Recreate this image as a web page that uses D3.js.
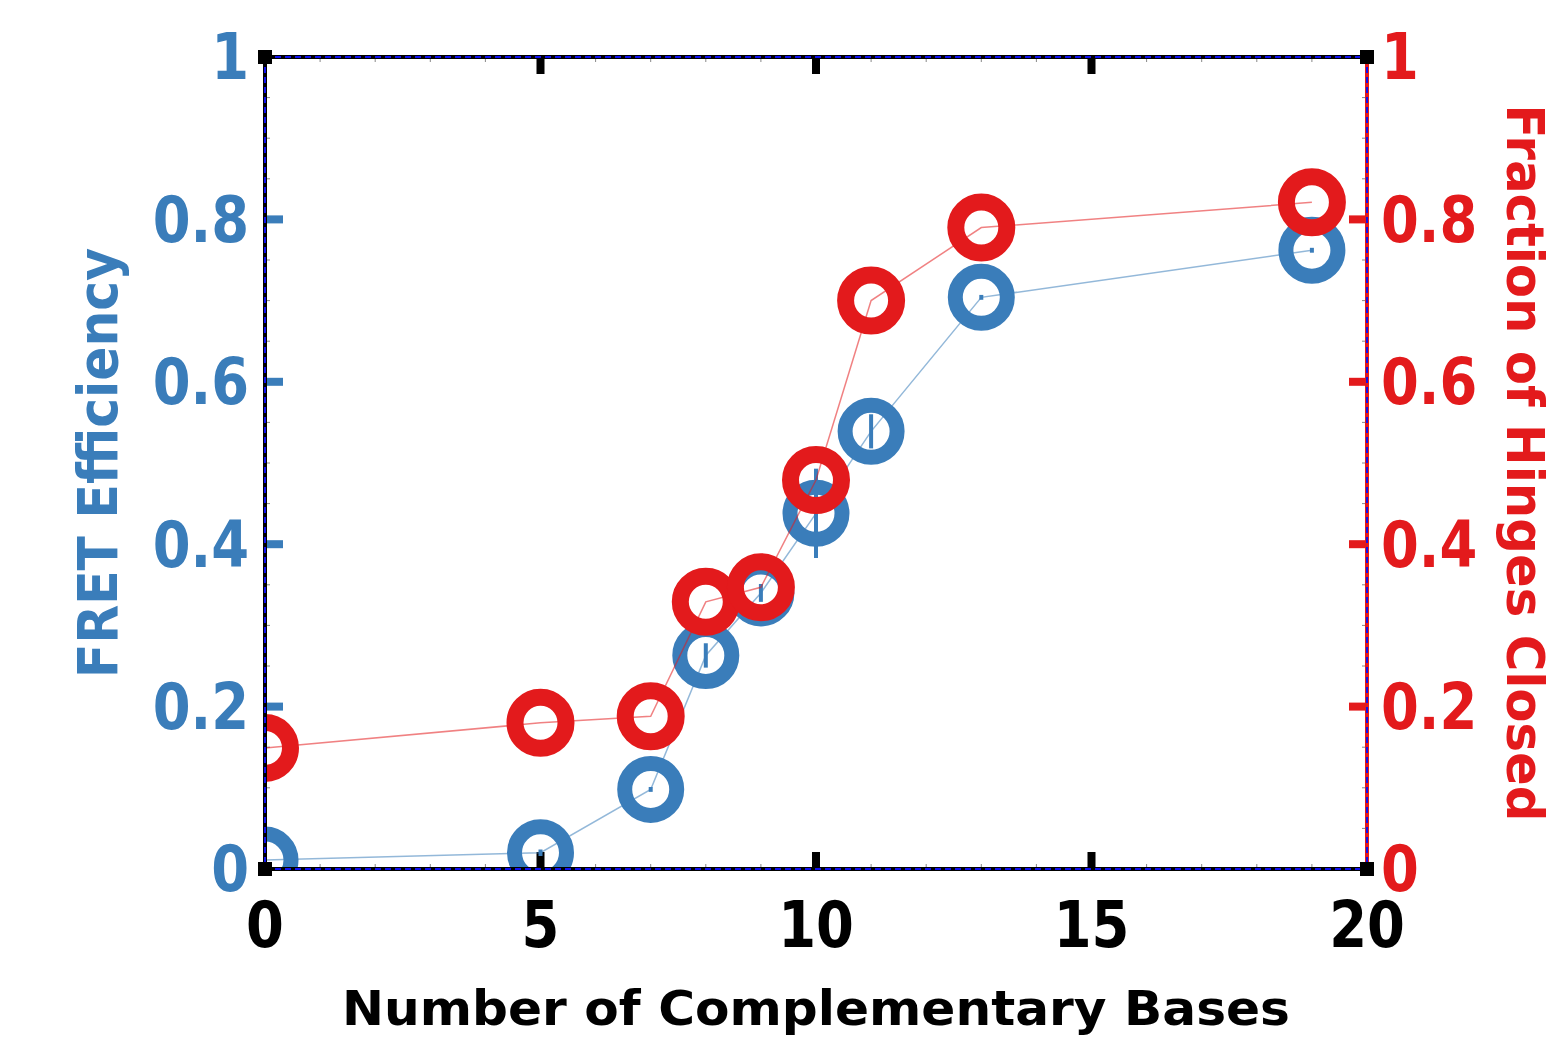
<!DOCTYPE html>
<html>
<head>
<meta charset="utf-8">
<script src="https://cdn.jsdelivr.net/npm/d3@7"></script>
<style>
  body { margin: 0; background: #fff; }
  svg text { font-family: "DejaVu Sans", Verdana, sans-serif; font-weight: bold; }
</style>
</head>
<body>
<div id="chart"></div>
<script>
// data
var bases = [0, 5, 7, 8, 9, 10, 11, 13, 19];
var fret = [0.011, 0.02, 0.098, 0.263, 0.34, 0.438, 0.539, 0.704, 0.762];
var fretErr = [0.003, 0.004, 0.003, 0.015, 0.011, 0.055, 0.021, 0.003, 0.003];
var fracClosed = [0.149, 0.18, 0.188, 0.329, 0.347, 0.479, 0.70, 0.79, 0.821];
var xTicks = [0, 5, 10, 15, 20];
var yTicks = [0, 0.2, 0.4, 0.6, 0.8, 1];

var blue = "#3a7dba", red = "#e31a1c";
var W = 1557, H = 1046;

var svg = d3.select("#chart").append("svg").attr("width", W).attr("height", H);

var x = d3.scaleLinear().domain([0, 20]).range([265, 1367]);
var yL = d3.scaleLinear().domain([0, 1]).range([869, 57]);
var yR = d3.scaleLinear().domain([0, 1]).range([869, 57]);

var fmt = function(d){ return d === 0 || d === 1 ? String(d) : d3.format(".1f")(d); };

svg.append("clipPath").attr("id", "plot").append("rect")
  .attr("x", 265).attr("y", 57).attr("width", 1102).attr("height", 812);

//minor ticks
var minor = svg.append("g").attr("stroke", "#888").attr("stroke-width", 1);
d3.range(1, 20).forEach(function(v){
  minor.append("line").attr("x1", x(v)).attr("x2", x(v)).attr("y1", 869).attr("y2", 864);
  minor.append("line").attr("x1", x(v)).attr("x2", x(v)).attr("y1", 57).attr("y2", 62);
});
d3.range(1, 20).forEach(function(i){
  var v = i * 0.05;
  minor.append("line").attr("x1", 265).attr("x2", 270).attr("y1", yL(v)).attr("y2", yL(v));
  minor.append("line").attr("x1", 1367).attr("x2", 1362).attr("y1", yR(v)).attr("y2", yR(v));
});

//major ticks
var ticks = svg.append("g");
xTicks.slice(1, -1).forEach(function(v){
  ticks.append("rect").attr("x", x(v) - 4).attr("y", 852).attr("width", 8).attr("height", 17).attr("fill", "#000");
  ticks.append("rect").attr("x", x(v) - 4).attr("y", 57).attr("width", 8).attr("height", 17).attr("fill", "#000");
});
yTicks.slice(1, -1).forEach(function(v){
  ticks.append("rect").attr("x", 265).attr("y", yL(v) - 4).attr("width", 18).attr("height", 8).attr("fill", blue);
  ticks.append("rect").attr("x", 1349).attr("y", yR(v) - 4).attr("width", 18).attr("height", 8).attr("fill", red);
});

//series
var fretData = bases.map(function(b, i){ return {x: b, y: fret[i], e: fretErr[i]}; });
var closedData = bases.map(function(b, i){ return {x: b, y: fracClosed[i]}; });

var plot = svg.append("g").attr("clip-path", "url(#plot)");

plot.append("path").datum(fretData)
  .attr("d", d3.line().x(function(d){ return x(d.x); }).y(function(d){ return yL(d.y); }))
  .attr("fill", "none").attr("stroke", blue).attr("stroke-opacity", 0.55).attr("stroke-width", 1.5);

plot.selectAll(".err").data(fretData).enter().append("rect")
  .attr("class", "err")
  .attr("x", function(d){ return x(d.x) - 2; })
  .attr("y", function(d){ return yL(d.y + d.e); })
  .attr("width", 4)
  .attr("height", function(d){ return yL(d.y - d.e) - yL(d.y + d.e); })
  .attr("fill", blue);

plot.selectAll(".fc").data(fretData).enter().append("circle")
  .attr("class", "fc")
  .attr("cx", function(d){ return x(d.x); })
  .attr("cy", function(d){ return yL(d.y); })
  .attr("r", 26).attr("fill", "none").attr("stroke", blue).attr("stroke-width", 15);

plot.append("path").datum(closedData)
  .attr("d", d3.line().x(function(d){ return x(d.x); }).y(function(d){ return yR(d.y); }))
  .attr("fill", "none").attr("stroke", red).attr("stroke-opacity", 0.55).attr("stroke-width", 1.5);

plot.selectAll(".rc").data(closedData).enter().append("circle")
  .attr("class", "rc")
  .attr("cx", function(d){ return x(d.x); })
  .attr("cy", function(d){ return yR(d.y); })
  .attr("r", 25.5).attr("fill", "none").attr("stroke", red).attr("stroke-width", 17);

//frame
var frame = svg.append("g");
function edge(x1, y1, x2, y2, base){
  frame.append("line").attr("x1", x1).attr("y1", y1).attr("x2", x2).attr("y2", y2)
    .attr("stroke", base).attr("stroke-width", 4);
  frame.append("line").attr("x1", x1).attr("y1", y1).attr("x2", x2).attr("y2", y2)
    .attr("stroke", "#1010ee").attr("stroke-width", 2).attr("stroke-dasharray", "6,4");
}
edge(265, 57, 1367, 57, "#000");
edge(265, 869, 1367, 869, "#000");
edge(265, 57, 265, 869, "#000");
edge(1367, 57, 1367, 869, red);
[[265, 57], [1367, 57], [265, 869], [1367, 869]].forEach(function(p){
  frame.append("rect").attr("x", p[0] - 7).attr("y", p[1] - 7).attr("width", 14).attr("height", 14).attr("fill", "#000");
});

//tick labels, slightly condensed
var lab = svg.append("g").attr("font-size", 64);
function label(px, py, anchor, color, txt){
  lab.append("g").attr("transform", "translate(" + px + "," + py + ") scale(0.85,1)")
    .append("text").attr("dy", "0.35em").attr("text-anchor", anchor).attr("fill", color).text(txt);
}
yTicks.forEach(function(v){
  label(249, yL(v), "end", blue, fmt(v));
  label(1381, yR(v), "start", red, fmt(v));
});
xTicks.forEach(function(v){
  lab.append("g").attr("transform", "translate(" + x(v) + ",947) scale(0.85,1)")
    .append("text").attr("text-anchor", "middle").attr("fill", "#000").text(v);
});

//axis titles
svg.append("text").attr("x", 816).attr("y", 1025).attr("text-anchor", "middle")
  .attr("font-size", 48).attr("fill", "#000")
  .attr("textLength", 948).attr("lengthAdjust", "spacingAndGlyphs")
  .text("Number of Complementary Bases");
svg.append("text").attr("transform", "translate(117,463) rotate(-90)").attr("text-anchor", "middle")
  .attr("font-size", 55).attr("fill", blue)
  .attr("textLength", 430).attr("lengthAdjust", "spacingAndGlyphs")
  .text("FRET Efficiency");
svg.append("text").attr("transform", "translate(1507,463) rotate(90)").attr("text-anchor", "middle")
  .attr("font-size", 52).attr("fill", red)
  .attr("textLength", 717).attr("lengthAdjust", "spacingAndGlyphs")
  .text("Fraction of Hinges Closed");
</script>
</body>
</html>
